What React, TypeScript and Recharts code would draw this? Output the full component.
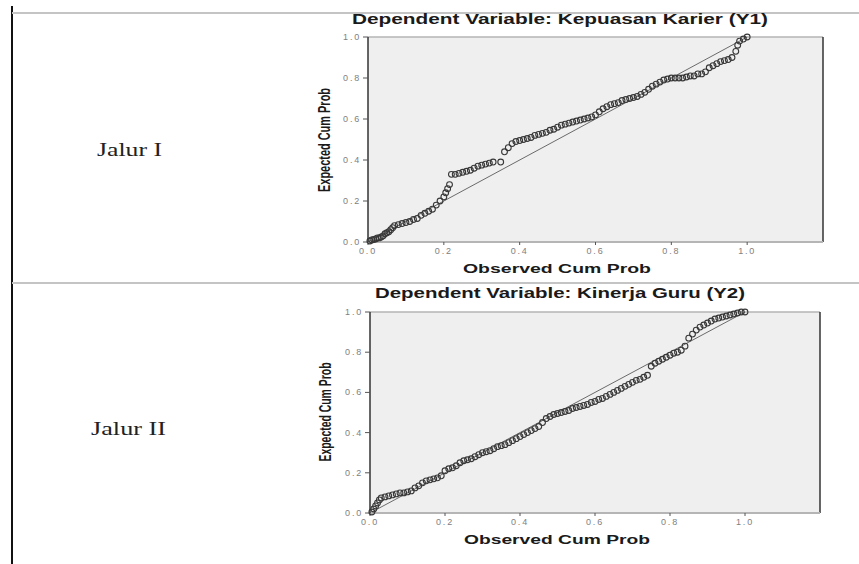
import React from "react";
import {
  ScatterChart,
  Scatter,
  XAxis,
  YAxis,
  CartesianGrid,
  ReferenceLine,
} from "recharts";

// ---------- data ----------
const xTicks = [0, 0.2, 0.4, 0.6, 0.8, 1.0];
const yTicks = [0, 0.2, 0.4, 0.6, 0.8, 1.0];

const rowLabels = ["Jalur I", "Jalur II"];
const chartTitles = [
  "Dependent Variable: Kepuasan Karier (Y1)",
  "Dependent Variable: Kinerja Guru (Y2)",
];
const xTitle = "Observed Cum Prob";
const yTitle = "Expected Cum Prob";

const observedY1 = [
  0.005, 0.01, 0.015, 0.02, 0.025, 0.03, 0.035, 0.04, 0.045, 0.05, 0.055, 0.06,
  0.065, 0.07, 0.08, 0.09, 0.1, 0.11, 0.12, 0.13, 0.14, 0.15, 0.16, 0.17, 0.18,
  0.19, 0.2, 0.205, 0.21, 0.215, 0.22, 0.23, 0.24, 0.25, 0.26, 0.27, 0.28, 0.29,
  0.3, 0.31, 0.32, 0.33, 0.35, 0.36, 0.37, 0.38, 0.39, 0.4, 0.41, 0.42, 0.43,
  0.44, 0.45, 0.46, 0.47, 0.48, 0.49, 0.5, 0.51, 0.52, 0.53, 0.54, 0.55, 0.56,
  0.57, 0.58, 0.59, 0.6, 0.61, 0.62, 0.63, 0.64, 0.65, 0.66, 0.67, 0.68, 0.69,
  0.7, 0.71, 0.72, 0.73, 0.74, 0.75, 0.76, 0.77, 0.78, 0.79, 0.8, 0.81, 0.82,
  0.83, 0.84, 0.85, 0.86, 0.87, 0.88, 0.89, 0.9, 0.91, 0.92, 0.93, 0.94, 0.95,
  0.96, 0.97, 0.975, 0.98, 0.99, 1.0,
];
const expectedY1 = [
  0.005, 0.01, 0.012, 0.015, 0.02, 0.02, 0.025, 0.03, 0.04, 0.045, 0.05, 0.06,
  0.07, 0.08, 0.085, 0.09, 0.095, 0.1, 0.11, 0.115, 0.13, 0.14, 0.15, 0.16, 0.18,
  0.2, 0.22, 0.24, 0.26, 0.28, 0.33, 0.33, 0.335, 0.34, 0.345, 0.35, 0.36, 0.37,
  0.375, 0.38, 0.385, 0.39, 0.39, 0.44, 0.46, 0.48, 0.49, 0.495, 0.5, 0.505,
  0.51, 0.52, 0.525, 0.53, 0.535, 0.545, 0.55, 0.56, 0.57, 0.575, 0.58, 0.585,
  0.59, 0.595, 0.6, 0.605, 0.61, 0.62, 0.635, 0.65, 0.66, 0.67, 0.675, 0.68,
  0.69, 0.695, 0.7, 0.705, 0.71, 0.72, 0.73, 0.745, 0.76, 0.77, 0.78, 0.79,
  0.795, 0.8, 0.8, 0.8, 0.8, 0.805, 0.81, 0.81, 0.82, 0.82, 0.83, 0.85, 0.86,
  0.87, 0.88, 0.885, 0.89, 0.9, 0.93, 0.96, 0.98, 0.99, 1.0,
];

const observedY2 = [
  0.005, 0.01, 0.015, 0.02, 0.025, 0.03, 0.04, 0.05, 0.06, 0.07, 0.08, 0.09,
  0.1, 0.11, 0.12, 0.13, 0.14, 0.15, 0.16, 0.17, 0.18, 0.19, 0.2, 0.21, 0.22,
  0.23, 0.24, 0.25, 0.26, 0.27, 0.28, 0.29, 0.3, 0.31, 0.32, 0.33, 0.34, 0.35,
  0.36, 0.37, 0.38, 0.39, 0.4, 0.41, 0.42, 0.43, 0.44, 0.45, 0.46, 0.47, 0.48,
  0.49, 0.5, 0.51, 0.52, 0.53, 0.54, 0.55, 0.56, 0.57, 0.58, 0.59, 0.6, 0.61,
  0.62, 0.63, 0.64, 0.65, 0.66, 0.67, 0.68, 0.69, 0.7, 0.71, 0.72, 0.73, 0.74,
  0.75, 0.76, 0.77, 0.78, 0.79, 0.8, 0.81, 0.82, 0.83, 0.84, 0.85, 0.86, 0.87,
  0.88, 0.89, 0.9, 0.91, 0.92, 0.93, 0.94, 0.95, 0.96, 0.97, 0.98, 0.99, 1.0,
];
const expectedY2 = [
  0.005, 0.02, 0.035, 0.05, 0.065, 0.075, 0.08, 0.085, 0.09, 0.095, 0.1, 0.1,
  0.105, 0.11, 0.125, 0.135, 0.15, 0.16, 0.165, 0.17, 0.175, 0.185, 0.21, 0.22,
  0.225, 0.235, 0.25, 0.26, 0.265, 0.27, 0.28, 0.29, 0.3, 0.305, 0.31, 0.32,
  0.33, 0.335, 0.34, 0.35, 0.36, 0.37, 0.38, 0.39, 0.4, 0.41, 0.42, 0.43, 0.45,
  0.47, 0.48, 0.49, 0.495, 0.5, 0.505, 0.51, 0.52, 0.525, 0.53, 0.535, 0.54,
  0.55, 0.555, 0.565, 0.57, 0.58, 0.59, 0.6, 0.61, 0.62, 0.63, 0.64, 0.65, 0.66,
  0.665, 0.675, 0.685, 0.73, 0.745, 0.755, 0.765, 0.775, 0.785, 0.795, 0.8,
  0.81, 0.83, 0.87, 0.89, 0.91, 0.925, 0.935, 0.945, 0.955, 0.965, 0.97, 0.975,
  0.98, 0.985, 0.99, 0.995, 1.0, 1.0,
];

const seriesList = [
  { observed: observedY1, expected: expectedY1 },
  { observed: observedY2, expected: expectedY2 },
];

// ---------- layout ----------
const W = 859;
const H = 564;
const ROW_SPLIT = 283;
const Y_AXIS_W = 40;
const X_AXIS_H = 20;
const layouts = [
  { top: 0, height: ROW_SPLIT, margin: { top: 37, right: 36, bottom: 41 - X_AXIS_H, left: 368 - Y_AXIS_W } },
  { top: ROW_SPLIT, height: H - ROW_SPLIT, margin: { top: 29, right: 39, bottom: 51 - X_AXIS_H, left: 370 - Y_AXIS_W } },
];
const FONT = "'Liberation Sans', Arial, Helvetica, sans-serif";

const fmt = (v: number) => v.toFixed(1);

const XTick = (props: any) => {
  const { x, y, payload } = props;
  return (
    <text
      x={x}
      y={y + 8}
      textAnchor="middle"
      fontSize={9}
      fill="#808080"
      fontFamily={FONT}
      letterSpacing={1.8}
    >
      {fmt(payload.value)}
    </text>
  );
};

const YTick = (props: any) => {
  const { x, y, payload } = props;
  return (
    <text
      x={x}
      y={y + 3}
      textAnchor="end"
      fontSize={9}
      fill="#808080"
      fontFamily={FONT}
      letterSpacing={1.8}
    >
      {fmt(payload.value)}
    </text>
  );
};

const Marker = (props: any) => {
  const { cx, cy } = props;
  if (cx == null || cy == null) return null;
  return (
    <circle cx={cx} cy={cy} r={2.9} fill="none" stroke="#383838" strokeWidth={1.1} />
  );
};

function PPPlot({ index }: { index: number }) {
  const { observed, expected } = seriesList[index];
  const data = observed.map((o, i) => ({ obs: o, exp: expected[i] }));
  const lay = layouts[index];
  return (
    <div style={{ position: "absolute", left: 0, top: lay.top, width: W, height: lay.height }}>
      <ScatterChart width={W} height={lay.height} margin={lay.margin}>
        <CartesianGrid fill="#efefef" horizontal={false} vertical={false} />
        <XAxis
          type="number"
          dataKey="obs"
          domain={[0, 1.2]}
          ticks={xTicks}
          height={X_AXIS_H}
          tickSize={3}
          tickMargin={1}
          tickLine={{ stroke: "#555" }}
          axisLine={{ stroke: "#b5b5b5", strokeWidth: 2 }}
          tick={<XTick />}
          interval={0}
        />
        <YAxis
          type="number"
          dataKey="exp"
          domain={[0, 1]}
          ticks={yTicks}
          width={Y_AXIS_W}
          tickSize={5}
          tickMargin={2}
          tickLine={{ stroke: "#555" }}
          axisLine={{ stroke: "#333", strokeWidth: 1.5 }}
          tick={<YTick />}
          interval={0}
        />
        <ReferenceLine y={1} stroke="#b5b5b5" strokeWidth={1.5} />
        <ReferenceLine x={1.2} stroke="#333" strokeWidth={1.5} />
        <ReferenceLine
          segment={[
            { x: 0, y: 0 },
            { x: 1, y: 1 },
          ]}
          stroke="#6a6a6a"
          strokeWidth={1}
        />
        <Scatter data={data} shape={<Marker />} isAnimationActive={false} />
      </ScatterChart>
    </div>
  );
}

const texts = [
  { title: { x: 560, y: 24, len: 416 }, xl: { x: 557, y: 273, len: 188 }, yl: { x: 324, y: 140, len: 104 }, row: { x: 97, y: 156, len: 65 } },
  { title: { x: 560, y: 298, len: 370 }, xl: { x: 557, y: 544, len: 186 }, yl: { x: 325, y: 412, len: 99 }, row: { x: 91, y: 435, len: 75 } },
];

export default function App() {
  return (
    <div
      style={{
        position: "absolute",
        left: 0,
        top: 0,
        width: W,
        height: H,
        background: "#fff",
        overflow: "hidden",
      }}
    >
      {/* table borders */}
      <div style={{ position: "absolute", left: 11, top: 6, width: 2, height: H - 6, background: "#111" }} />
      <div style={{ position: "absolute", left: 12, top: 12, width: W - 12, height: 2, background: "#c4c4c4" }} />
      <div style={{ position: "absolute", left: 12, top: ROW_SPLIT - 1, width: W - 12, height: 2, background: "#c4c4c4" }} />

      <PPPlot index={0} />
      <PPPlot index={1} />

      <svg
        width={W}
        height={H}
        style={{ position: "absolute", left: 0, top: 0, pointerEvents: "none" }}
      >
        {texts.map((t, i) => (
          <g key={i}>
            <text
              x={t.title.x}
              y={t.title.y}
              textAnchor="middle"
              fontFamily={FONT}
              fontWeight="bold"
              fontSize={14}
              fill="#1a1a1a"
              textLength={t.title.len}
              lengthAdjust="spacingAndGlyphs"
            >
              {chartTitles[i]}
            </text>
            <text
              x={t.xl.x}
              y={t.xl.y}
              textAnchor="middle"
              fontFamily={FONT}
              fontWeight="bold"
              fontSize={13.5}
              fill="#1a1a1a"
              textLength={t.xl.len}
              lengthAdjust="spacingAndGlyphs"
            >
              {xTitle}
            </text>
            <text
              x={0}
              y={0}
              transform={`translate(${t.yl.x},${t.yl.y}) rotate(-90)`}
              textAnchor="middle"
              dominantBaseline="central"
              fontFamily={FONT}
              fontWeight="bold"
              fontSize={16}
              fill="#1a1a1a"
              textLength={t.yl.len}
              lengthAdjust="spacingAndGlyphs"
            >
              {yTitle}
            </text>
            <text
              x={t.row.x}
              y={t.row.y}
              fontFamily="'Liberation Serif', 'Times New Roman', serif"
              fontSize={18}
              fill="#222"
              textLength={t.row.len}
              lengthAdjust="spacingAndGlyphs"
            >
              {rowLabels[i]}
            </text>
          </g>
        ))}
      </svg>
    </div>
  );
}
